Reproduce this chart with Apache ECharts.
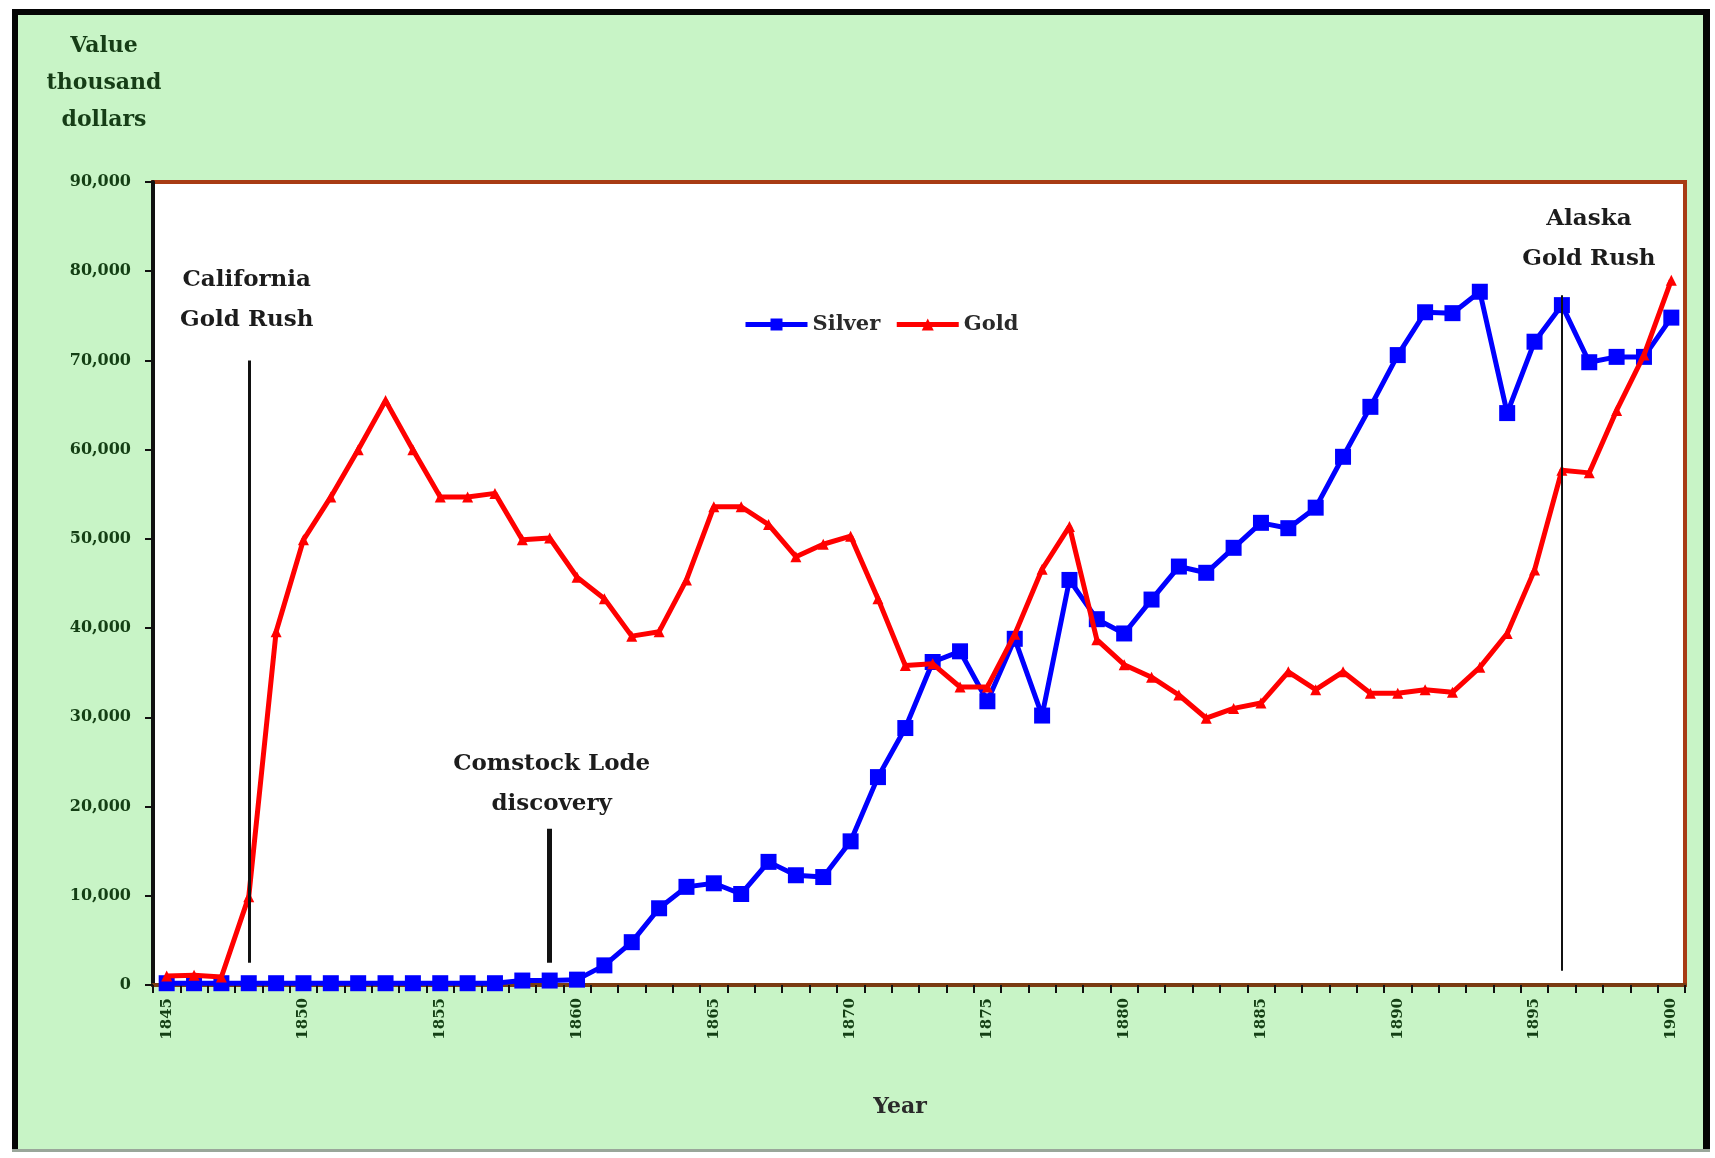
<!DOCTYPE html>
<html><head><meta charset="utf-8">
<script src="https://cdn.jsdelivr.net/npm/echarts@6/dist/echarts.min.js"></script>
<style>html,body{margin:0;padding:0;background:#fff}#c{width:1715px;height:1158px}</style>
</head><body><div id="c"></div>
<script>
// ---------- data ----------
const years = ['1845','1846','1847','1848','1849','1850','1851','1852','1853','1854',
  '1855','1856','1857','1858','1859','1860','1861','1862','1863','1864',
  '1865','1866','1867','1868','1869','1870','1871','1872','1873','1874',
  '1875','1876','1877','1878','1879','1880','1881','1882','1883','1884',
  '1885','1886','1887','1888','1889','1890','1891','1892','1893','1894',
  '1895','1896','1897','1898','1899','1900'];
const xTickLabels = ['1845','1850','1855','1860','1865','1870','1875','1880','1885','1890','1895','1900'];
const yMin = 0, yMax = 90000, yStep = 10000;
const silver = [200,200,200,200,200,200,200,200,200,200,
  200,200,200,500,500,600,2200,4800,8600,11000,
  11400,10200,13800,12300,12100,16100,23300,28800,36200,37400,
  31800,38800,30200,45400,41000,39400,43200,46900,46200,49000,
  51800,51200,53500,59200,64800,70600,75400,75300,77700,64100,
  72100,76200,69800,70400,70400,74800];
const gold = [1000,1100,900,9900,39600,49900,54700,60000,65500,60000,
  54700,54700,55100,49900,50100,45700,43300,39100,39600,45400,
  53600,53600,51600,48000,49400,50300,43300,35800,36000,33400,
  33400,39300,46600,51400,38700,35900,34500,32500,29900,31000,
  31600,35100,33100,35100,32700,32700,33100,32800,35600,39400,
  46500,57700,57400,64400,70600,79000];
const eventYears = ['1848','1859','1896'];
const eventLabels = ['California\nGold Rush','Comstock Lode\ndiscovery','Alaska\nGold Rush'];
const eventLineTop = [70000, 17500, 77300];
const eventLineBottom = [2500, 2500, 1600];

// ---------- styles / layout ----------
const FONT = '"DejaVu Serif", "Liberation Serif", serif';
const eventLineWidth = [3, 5, 2];
const eventTextDx = [-2, 2, 27];
const eventTextGap = [40, 25, 36];
const tickColor = '#143f14';

const chart = echarts.init(document.getElementById('c'), null, {renderer: 'canvas'});
const option = {
  animation: false,
  backgroundColor: '#c8f4c6',
  grid: {
    left: 153, top: 182, width: 1532, height: 803,
    show: true, backgroundColor: '#ffffff',
    borderColor: '#a83c14', borderWidth: 4
  },
  legend: {
    left: 738, top: 309,
    itemWidth: 62, itemHeight: 15, itemGap: 14,
    lineStyle: {width: 5},
    textStyle: {fontFamily: FONT, fontSize: 21, fontWeight: 'bold', color: '#2a2a2a'},
    data: ['Silver', 'Gold']
  },
  xAxis: {
    type: 'category', data: years, boundaryGap: true,
    axisLine: {lineStyle: {color: '#7a3b12', width: 4}},
    axisTick: {show: true, interval: 0, length: 8, lineStyle: {color: '#111', width: 2}},
    axisLabel: {
      interval: (i, v) => xTickLabels.includes(v),
      rotate: 90, margin: 13,
      fontFamily: FONT, fontSize: 15, fontWeight: 'bold', color: tickColor
    },
    splitLine: {show: false}
  },
  yAxis: {
    type: 'value', min: yMin, max: yMax, interval: yStep,
    axisLine: {show: true, lineStyle: {color: '#111', width: 4}},
    axisTick: {show: true, length: 8, lineStyle: {color: '#111', width: 2}},
    axisLabel: {
      margin: 22, fontFamily: FONT, fontSize: 16, fontWeight: 'bold', color: tickColor,
      formatter: v => v.toLocaleString('en-US')
    },
    splitLine: {show: false}
  },
  series: [
    {
      name: 'Silver', type: 'line', data: silver,
      symbol: 'rect', symbolSize: 16, showSymbol: true,
      lineStyle: {color: '#0000ff', width: 5},
      itemStyle: {color: '#0000ff'}, z: 3
    },
    {
      name: 'Gold', type: 'line', data: gold,
      symbol: 'triangle', symbolSize: 11, showSymbol: true,
      lineStyle: {color: '#ff0000', width: 5},
      itemStyle: {color: '#ff0000'}, z: 4,
      markLine: {
        silent: true, symbol: ['none', 'none'], animation: false,
        label: {show: false},
        data: eventYears.map((y, i) => [
          {coord: [y, eventLineBottom[i]], lineStyle: {color: '#111', width: eventLineWidth[i], type: 'solid'}},
          {coord: [y, eventLineTop[i]]}
        ])
      }
    }
  ]
};
chart.setOption(option);

// annotation texts positioned through the chart's own scales
const graphics = [
  // white outer margins and frame
  {type: 'rect', shape: {x: 0, y: 0, width: 1715, height: 9}, style: {fill: '#fff'}, silent: true},
  {type: 'rect', shape: {x: 0, y: 0, width: 12, height: 1158}, style: {fill: '#fff'}, silent: true},
  {type: 'rect', shape: {x: 1710, y: 0, width: 5, height: 1158}, style: {fill: '#fff'}, silent: true},
  {type: 'rect', shape: {x: 0, y: 1152, width: 1715, height: 6}, style: {fill: '#fff'}, silent: true},
  {type: 'rect', shape: {x: 12, y: 9, width: 1698, height: 6}, style: {fill: '#050505'}, silent: true},
  {type: 'rect', shape: {x: 12, y: 9, width: 6, height: 1143}, style: {fill: '#050505'}, silent: true},
  {type: 'rect', shape: {x: 1703, y: 9, width: 7, height: 1143}, style: {fill: '#050505'}, silent: true},
  {type: 'rect', shape: {x: 12, y: 1149, width: 1698, height: 3}, style: {fill: '#9aa69a'}, silent: true},
  // y title
  {type: 'text', x: 104, y: 28, silent: true,
   style: {text: 'Value\nthousand\ndollars', align: 'center', verticalAlign: 'top', lineHeight: 37,
           font: 'bold 22px ' + FONT, fill: '#163d16'}},
  // x title
  {type: 'text', x: 900, y: 1107, silent: true,
   style: {text: 'Year', align: 'center', verticalAlign: 'middle',
           font: 'bold 22px ' + FONT, fill: '#2a2a2a'}}
];
eventYears.forEach((y, i) => {
  const p = chart.convertToPixel({gridIndex: 0}, [y, eventLineTop[i]]);
  const lastCenter = p[1] - eventTextGap[i];
  graphics.push({
    type: 'text', x: p[0] + eventTextDx[i], y: lastCenter - 60, silent: true, z: 10,
    style: {text: eventLabels[i], align: 'center', verticalAlign: 'top', lineHeight: 40,
            font: 'bold 23px ' + FONT, fill: '#1c1c1c'}
  });
});
chart.setOption({graphic: graphics});
</script>
</body></html>
